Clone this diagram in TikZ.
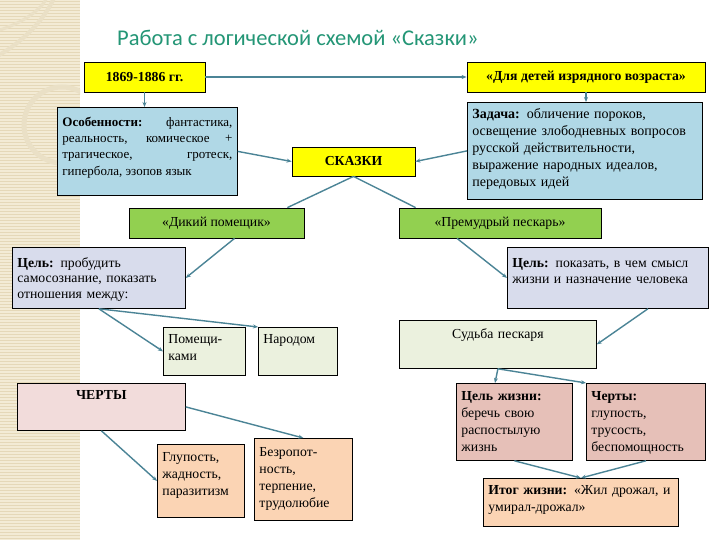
\documentclass[tikz,border=0pt]{standalone}
\usepackage{fontspec}
\setmainfont{Liberation Serif}
\newfontfamily\titlefont{Carlito}
\usetikzlibrary{arrows.meta,calc}
\definecolor{cyel}{RGB}{255,255,0}
\definecolor{cblue}{RGB}{176,216,230}
\definecolor{cgreen}{RGB}{146,208,80}
\definecolor{clav}{RGB}{216,220,236}
\definecolor{cpgreen}{RGB}{235,241,222}
\definecolor{cpink}{RGB}{242,220,219}
\definecolor{cpeach}{RGB}{251,212,180}
\definecolor{crose}{RGB}{230,192,184}
\definecolor{cline}{RGB}{75,132,150}
\definecolor{ctitle}{RGB}{36,150,118}
\definecolor{cstrip}{RGB}{243,235,213}
\definecolor{cstripl}{RGB}{229,216,184}
\hyphenpenalty=10000
\begin{document}
\begin{tikzpicture}[x=1pt,y=-1pt,
  bx/.style={draw=black, line width=0.8pt, inner sep=5pt, font=\fontsize{13.75}{17}\selectfont},
  tl/.style={bx, anchor=north west, align=left},
  cb/.style={bx, align=center},
  conn/.style={draw=cline, line width=1.4pt, -{Stealth[length=5pt,width=4pt]}},
  plain/.style={draw=cline, line width=1.4pt}]

\useasboundingbox (0,0) rectangle (720,540);
\fill[white] (0,0) rectangle (720,540);
\fill[cstrip] (0,0) rectangle (80,540);
\foreach \yy in {1.5,4.5,...,540}{\draw[cstripl, line width=0.5pt] (0,\yy) -- (80,\yy);}
\begin{scope}
  \clip (0,0) rectangle (80,540);
  \draw[cstripl!80!white, line width=5pt] (62,125) circle (38);
  \draw[cstripl!80!white, line width=4pt] (-10,60) .. controls (30,40) and (50,10) .. (55,-5);
  \draw[cstripl!80!white, line width=3pt] (0,30) .. controls (30,20) and (45,5) .. (48,-5);
\end{scope}

\node[anchor=base west, inner sep=0pt, text=ctitle, font=\titlefont\fontsize{22.5}{26}\selectfont] (title) at (117,46) {Работа с логической схемой «Сказки»};

% centred single-line boxes
\node[cb, fill=cyel, minimum width=121pt, minimum height=30pt] (A) at (144.5,77) {\textbf{1869-1886 гг.}};
\node[cb, fill=cyel, minimum width=238pt, minimum height=30pt] (B) at (586,77) {\textbf{«Для детей изрядного возраста»}};
\node[cb, fill=cyel, minimum width=123pt, minimum height=29pt] (D) at (353.5,161.5) {\textbf{СКАЗКИ}};
\node[cb, fill=cgreen, minimum width=175pt, minimum height=30pt] (F) at (216.5,223) {«Дикий помещик»};
\node[cb, fill=cgreen, minimum width=202pt, minimum height=30pt] (G) at (500,223) {«Премудрый пескарь»};

% top-aligned text boxes
\node[tl, fill=cblue, align=justify, font=\fontsize{13}{16.3}\selectfont, text width=170pt, text height=14pt, text depth=64pt] (C) at (57,107)
  {\textbf{Особенности:} фантастика,\linebreak реальность, комическое +\linebreak трагическое, гротеск,\linebreak гипербола, эзопов язык};
\node[tl, fill=cblue, font=\fontsize{14}{17}\selectfont, text width=225pt, text height=11pt, text depth=76pt] (E) at (467,102)
  {\textbf{Задача:} обличение пороков,\\ освещение злободневных вопросов\\ русской действительности,\\ выражение народных идеалов,\\ передовых идей};
\node[tl, fill=clav, font=\fontsize{13.75}{15.5}\selectfont, text width=163pt, text height=15pt, text depth=36pt] (H) at (12,247)
  {\textbf{Цель:} пробудить\\ самосознание, показать\\ отношения между:};
\node[tl, fill=clav, font=\fontsize{13.75}{15.7}\selectfont, text width=191pt, text height=15pt, text depth=36pt] (N) at (507,247)
  {\textbf{Цель:} показать, в чем смысл\\ жизни и назначение человека};
\node[tl, fill=cpgreen, text width=72pt, text height=11pt, text depth=27pt] (I) at (163,327)
  {Помещи-\\ками};
\node[tl, fill=cpgreen, text width=69pt, text height=11pt, text depth=27pt] (J) at (258,327)
  {Народом};
\node[tl, fill=cpgreen, align=center, text width=187pt, text height=13pt, text depth=25pt] (O) at (399,320)
  {Судьба пескаря};
\node[tl, fill=cpink, align=center, text width=158pt, text height=11pt, text depth=26pt] (K) at (17,383)
  {\textbf{ЧЕРТЫ}};
\node[tl, fill=cpeach, text width=77pt, text height=12pt, text depth=51pt] (L) at (157,444)
  {Глупость,\\ жадность,\\ паразитизм};
\node[tl, fill=cpeach, text width=88pt, text height=13pt, text depth=59pt] (M) at (254,438)
  {Безропот-\\ность,\\ терпение,\\ трудолюбие};
\node[tl, fill=crose, text width=106pt, text height=12pt, text depth=55pt] (P) at (456,383)
  {\textbf{Цель жизни:}\\ беречь свою\\ распостылую\\ жизнь};
\node[tl, fill=crose, text width=109pt, text height=12pt, text depth=55pt] (Q) at (586,383)
  {\textbf{Черты:}\\ глупость,\\ трусость,\\ беспомощность};
\node[tl, fill=cpeach, text width=185pt, text height=11pt, text depth=27pt] (R) at (483,478)
  {\textbf{Итог жизни:} «Жил дрожал, и\\ умирал-дрожал»};

% connectors
\draw[conn] (A) -- (B);
\draw[conn] (A.south) -- (A.south |- C.north);
\draw[conn] (B.south) -- (B.south |- E.north);
\draw[conn] (C.east) -- (D.west);
\draw[conn] (E.west) -- (D.east);
\draw[plain] (D.south) -- ([xshift=-17pt]F.north east);
\draw[plain] (D.south) -- ([xshift=17pt]G.north west);
\draw[conn] ([xshift=18pt]F.south) -- (H.east);
\draw[conn] (H.south) -- (I.west);
\draw[conn] (H.south) -- (J.north west);
\draw[conn] ([xshift=-43pt]G.south) -- (N.west);
\draw[conn] ([xshift=40pt]N.south) -- (O.east);
\draw[conn] (O.south) -- ([xshift=39pt]P.north west);
\draw[conn] (O.south) -- (Q.north west);
\draw[conn] (P.south) -- (R.north);
\draw[conn] (Q.south) -- (R.north);
\draw[conn] (K.south) -- (L.west);
\draw[conn] (K.east) -- (M.north);
\end{tikzpicture}
\end{document}
